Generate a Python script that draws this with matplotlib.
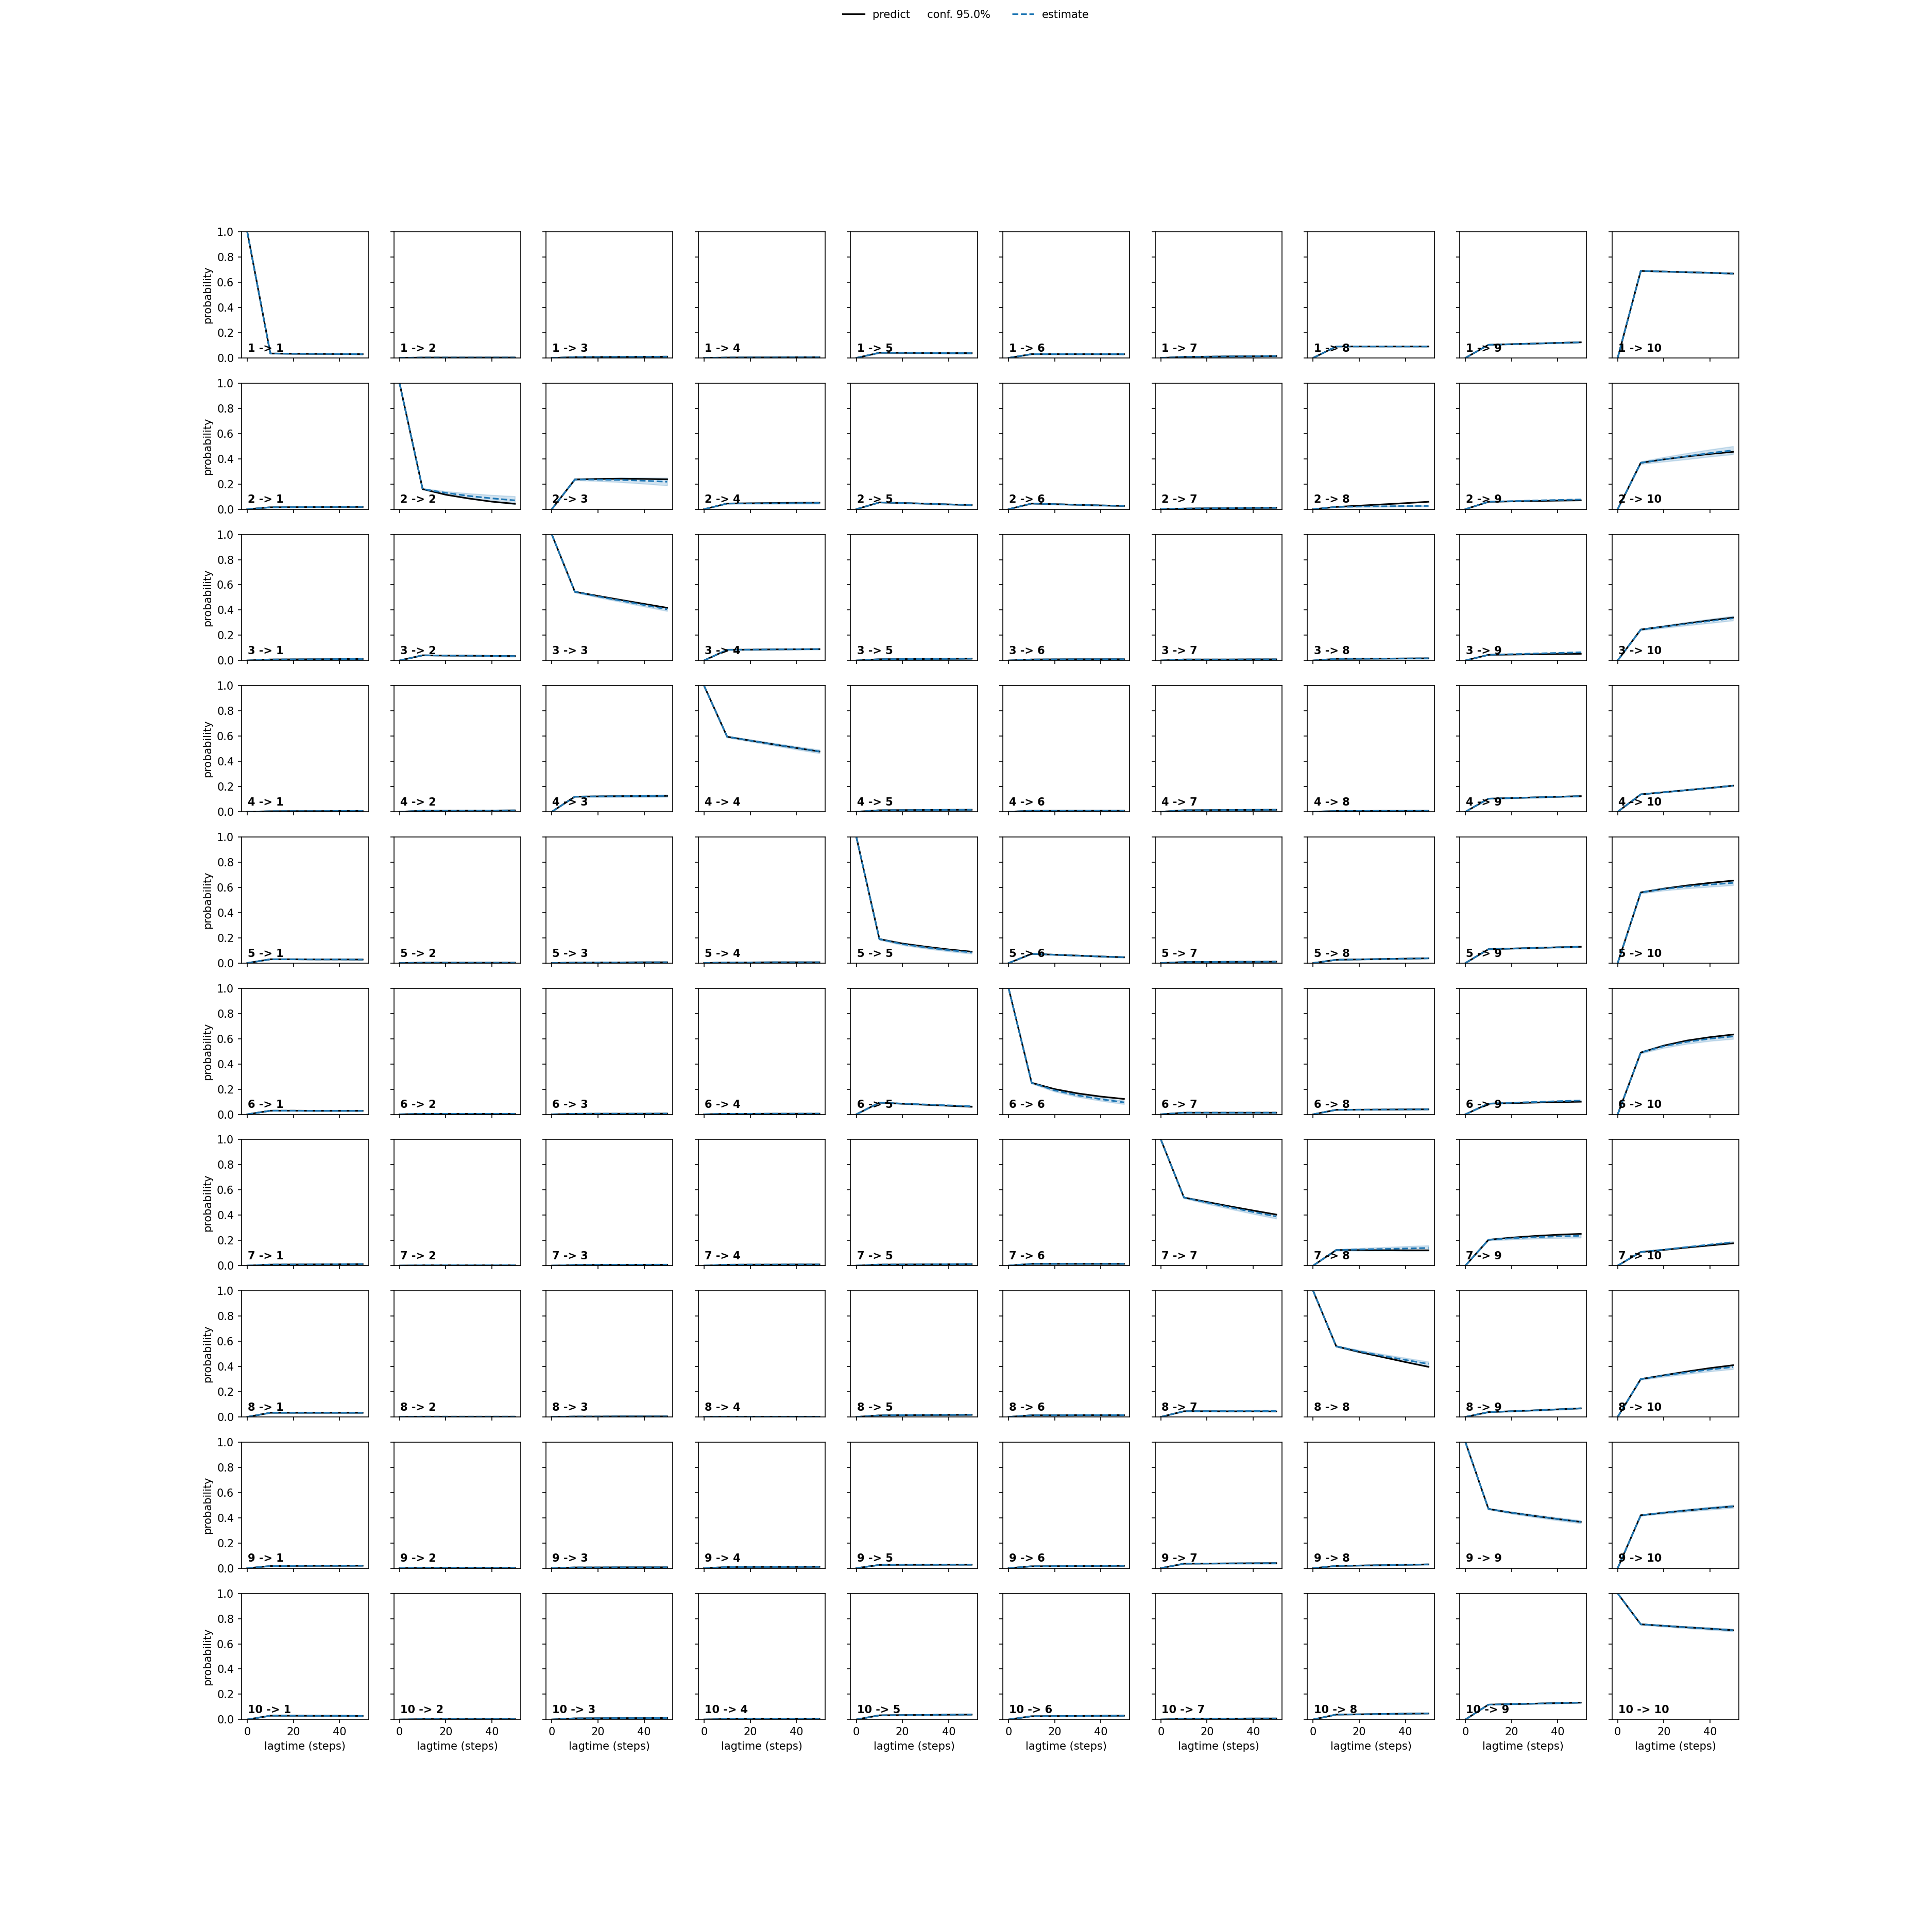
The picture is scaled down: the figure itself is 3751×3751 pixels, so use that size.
import numpy as np
import matplotlib
matplotlib.use('Agg')
import matplotlib.pyplot as plt

# lag times of the CK test (steps)
lagtimes = [0, 10, 20, 30, 40, 50]
nsets = 10

# estimates (black, solid) for each i -> j, rows i, columns j
estimates = [
    [[1, 0.035, 0.033, 0.032, 0.031, 0.030],
     [0, 0.003, 0.003, 0.003, 0.003, 0.003],
     [0, 0.006, 0.007, 0.008, 0.009, 0.010],
     [0, 0.003, 0.004, 0.004, 0.005, 0.005],
     [0, 0.041, 0.040, 0.039, 0.038, 0.038],
     [0, 0.030, 0.030, 0.030, 0.030, 0.030],
     [0, 0.008, 0.010, 0.012, 0.013, 0.015],
     [0, 0.091, 0.091, 0.091, 0.091, 0.091],
     [0, 0.104, 0.109, 0.114, 0.119, 0.124],
     [0, 0.690, 0.685, 0.680, 0.675, 0.669]],
    [[0, 0.015, 0.016, 0.017, 0.018, 0.018],
     [1, 0.160, 0.115, 0.085, 0.060, 0.043],
     [0, 0.236, 0.240, 0.242, 0.240, 0.237],
     [0, 0.045, 0.047, 0.049, 0.051, 0.052],
     [0, 0.054, 0.049, 0.044, 0.038, 0.033],
     [0, 0.045, 0.040, 0.035, 0.030, 0.026],
     [0, 0.005, 0.007, 0.008, 0.010, 0.011],
     [0, 0.018, 0.028, 0.038, 0.048, 0.059],
     [0, 0.059, 0.062, 0.065, 0.068, 0.070],
     [0, 0.368, 0.395, 0.418, 0.438, 0.455]],
    [[0, 0.008, 0.009, 0.010, 0.011, 0.012],
     [0, 0.041, 0.039, 0.038, 0.036, 0.035],
     [1, 0.545, 0.512, 0.480, 0.449, 0.418],
     [0, 0.085, 0.086, 0.088, 0.089, 0.090],
     [0, 0.010, 0.011, 0.012, 0.013, 0.015],
     [0, 0.008, 0.009, 0.010, 0.010, 0.010],
     [0, 0.008, 0.008, 0.008, 0.009, 0.009],
     [0, 0.013, 0.014, 0.015, 0.016, 0.017],
     [0, 0.045, 0.047, 0.049, 0.051, 0.053],
     [0, 0.245, 0.269, 0.294, 0.318, 0.340]],
    [[0, 0.004, 0.005, 0.005, 0.006, 0.006],
     [0, 0.008, 0.009, 0.010, 0.010, 0.011],
     [0, 0.120, 0.122, 0.124, 0.125, 0.126],
     [1, 0.595, 0.565, 0.535, 0.506, 0.478],
     [0, 0.012, 0.013, 0.014, 0.015, 0.016],
     [0, 0.008, 0.008, 0.009, 0.009, 0.009],
     [0, 0.012, 0.013, 0.014, 0.015, 0.016],
     [0, 0.006, 0.006, 0.007, 0.007, 0.008],
     [0, 0.104, 0.109, 0.114, 0.119, 0.124],
     [0, 0.138, 0.155, 0.172, 0.189, 0.207]],
    [[0, 0.030, 0.030, 0.029, 0.029, 0.028],
     [0, 0.003, 0.003, 0.003, 0.003, 0.003],
     [0, 0.004, 0.005, 0.005, 0.006, 0.006],
     [0, 0.005, 0.005, 0.006, 0.006, 0.006],
     [1, 0.190, 0.155, 0.130, 0.108, 0.090],
     [0, 0.073, 0.066, 0.059, 0.052, 0.046],
     [0, 0.008, 0.009, 0.010, 0.010, 0.011],
     [0, 0.026, 0.029, 0.032, 0.035, 0.038],
     [0, 0.110, 0.115, 0.120, 0.125, 0.129],
     [0, 0.560, 0.590, 0.615, 0.636, 0.654]],
    [[0, 0.029, 0.029, 0.028, 0.028, 0.028],
     [0, 0.004, 0.004, 0.004, 0.004, 0.004],
     [0, 0.004, 0.005, 0.005, 0.005, 0.006],
     [0, 0.004, 0.004, 0.005, 0.005, 0.005],
     [0, 0.093, 0.084, 0.076, 0.068, 0.060],
     [1, 0.250, 0.200, 0.166, 0.141, 0.122],
     [0, 0.013, 0.013, 0.013, 0.013, 0.013],
     [0, 0.036, 0.037, 0.038, 0.039, 0.040],
     [0, 0.085, 0.089, 0.093, 0.097, 0.100],
     [0, 0.490, 0.545, 0.585, 0.612, 0.633]],
    [[0, 0.008, 0.009, 0.010, 0.011, 0.012],
     [0, 0.003, 0.003, 0.003, 0.003, 0.003],
     [0, 0.005, 0.006, 0.006, 0.007, 0.007],
     [0, 0.007, 0.008, 0.008, 0.009, 0.009],
     [0, 0.008, 0.009, 0.010, 0.011, 0.012],
     [0, 0.014, 0.014, 0.014, 0.014, 0.014],
     [1, 0.540, 0.505, 0.470, 0.437, 0.405],
     [0, 0.124, 0.123, 0.122, 0.121, 0.121],
     [0, 0.205, 0.222, 0.235, 0.245, 0.252],
     [0, 0.108, 0.125, 0.143, 0.160, 0.177]],
    [[0, 0.033, 0.033, 0.033, 0.033, 0.033],
     [0, 0.002, 0.002, 0.002, 0.002, 0.002],
     [0, 0.003, 0.003, 0.004, 0.004, 0.004],
     [0, 0.001, 0.001, 0.001, 0.001, 0.001],
     [0, 0.012, 0.014, 0.015, 0.016, 0.017],
     [0, 0.013, 0.013, 0.014, 0.014, 0.014],
     [0, 0.045, 0.045, 0.044, 0.044, 0.043],
     [1, 0.560, 0.515, 0.475, 0.435, 0.397],
     [0, 0.038, 0.045, 0.052, 0.060, 0.068],
     [0, 0.300, 0.330, 0.360, 0.387, 0.410]],
    [[0, 0.017, 0.018, 0.019, 0.019, 0.020],
     [0, 0.003, 0.003, 0.003, 0.003, 0.003],
     [0, 0.006, 0.006, 0.007, 0.007, 0.007],
     [0, 0.009, 0.010, 0.010, 0.010, 0.011],
     [0, 0.026, 0.027, 0.027, 0.028, 0.028],
     [0, 0.015, 0.016, 0.017, 0.018, 0.019],
     [0, 0.036, 0.037, 0.038, 0.039, 0.040],
     [0, 0.018, 0.021, 0.024, 0.027, 0.030],
     [1, 0.470, 0.440, 0.414, 0.390, 0.367],
     [0, 0.420, 0.440, 0.458, 0.475, 0.490]],
    [[0, 0.030, 0.030, 0.029, 0.029, 0.028],
     [0, 0.003, 0.003, 0.003, 0.003, 0.003],
     [0, 0.009, 0.010, 0.011, 0.011, 0.012],
     [0, 0.004, 0.004, 0.004, 0.004, 0.004],
     [0, 0.033, 0.035, 0.036, 0.038, 0.039],
     [0, 0.026, 0.027, 0.028, 0.029, 0.030],
     [0, 0.006, 0.007, 0.007, 0.008, 0.008],
     [0, 0.039, 0.041, 0.044, 0.046, 0.048],
     [0, 0.118, 0.122, 0.126, 0.130, 0.134],
     [1, 0.755, 0.743, 0.731, 0.720, 0.708]],
]

# predictions (blue, dashed) where they differ from the estimates
pred_override = {
    (1, 1): [1, 0.160, 0.130, 0.105, 0.086, 0.070],
    (1, 2): [0, 0.236, 0.235, 0.232, 0.226, 0.218],
    (1, 3): [0, 0.045, 0.046, 0.047, 0.048, 0.049],
    (1, 7): [0, 0.018, 0.021, 0.023, 0.025, 0.026],
    (1, 8): [0, 0.059, 0.064, 0.069, 0.073, 0.077],
    (1, 9): [0, 0.368, 0.395, 0.420, 0.445, 0.467],
    (2, 2): [1, 0.545, 0.508, 0.474, 0.440, 0.406],
    (2, 8): [0, 0.045, 0.050, 0.055, 0.060, 0.065],
    (2, 9): [0, 0.245, 0.268, 0.291, 0.313, 0.335],
    (4, 4): [1, 0.190, 0.150, 0.124, 0.102, 0.084],
    (4, 9): [0, 0.560, 0.587, 0.607, 0.622, 0.636],
    (5, 4): [0, 0.093, 0.085, 0.078, 0.071, 0.064],
    (5, 5): [1, 0.250, 0.190, 0.150, 0.120, 0.095],
    (5, 8): [0, 0.085, 0.092, 0.098, 0.104, 0.110],
    (5, 9): [0, 0.490, 0.540, 0.575, 0.600, 0.618],
    (6, 6): [1, 0.540, 0.500, 0.462, 0.425, 0.390],
    (6, 7): [0, 0.124, 0.128, 0.132, 0.136, 0.140],
    (6, 8): [0, 0.205, 0.217, 0.226, 0.232, 0.237],
    (6, 9): [0, 0.108, 0.127, 0.147, 0.167, 0.186],
    (7, 6): [0, 0.045, 0.046, 0.046, 0.047, 0.047],
    (7, 7): [1, 0.560, 0.520, 0.485, 0.452, 0.420],
    (7, 9): [0, 0.300, 0.328, 0.353, 0.376, 0.396],
}

# half width of the 95% confidence band of the predictions
conf_default = [0, 0.002, 0.003, 0.004, 0.004, 0.005]
conf_override = {
    (1, 1): [0, 0.005, 0.012, 0.020, 0.026, 0.032],
    (1, 2): [0, 0.006, 0.012, 0.018, 0.024, 0.030],
    (1, 9): [0, 0.010, 0.018, 0.024, 0.028, 0.032],
    (2, 2): [0, 0.006, 0.008, 0.010, 0.012, 0.014],
    (2, 9): [0, 0.006, 0.010, 0.013, 0.016, 0.018],
    (3, 3): [0, 0.006, 0.008, 0.010, 0.012, 0.014],
    (3, 2): [0, 0.004, 0.006, 0.007, 0.008, 0.008],
    (4, 4): [0, 0.006, 0.008, 0.009, 0.010, 0.010],
    (4, 9): [0, 0.008, 0.012, 0.015, 0.017, 0.019],
    (5, 5): [0, 0.006, 0.010, 0.012, 0.013, 0.014],
    (5, 9): [0, 0.008, 0.013, 0.016, 0.018, 0.020],
    (6, 6): [0, 0.006, 0.010, 0.013, 0.015, 0.017],
    (6, 7): [0, 0.006, 0.010, 0.014, 0.017, 0.020],
    (6, 8): [0, 0.006, 0.010, 0.012, 0.014, 0.015],
    (7, 7): [0, 0.006, 0.010, 0.013, 0.016, 0.018],
    (7, 9): [0, 0.006, 0.010, 0.013, 0.015, 0.017],
    (8, 8): [0, 0.005, 0.008, 0.010, 0.011, 0.012],
    (8, 9): [0, 0.005, 0.008, 0.010, 0.011, 0.012],
    (9, 9): [0, 0.005, 0.007, 0.008, 0.009, 0.010],
}

conf = 0.95


def main():
    fig, axes = plt.subplots(nsets, nsets, sharex=True, sharey=True, figsize=(3751 / 150, 3751 / 150))
    lags = np.array(lagtimes)
    for i in range(nsets):
        for j in range(nsets):
            ax = axes[i, j]
            est = np.array(estimates[i][j])
            pred = np.array(pred_override.get((i, j), estimates[i][j]))
            err = np.array(conf_override.get((i, j), conf_default))
            lest = ax.plot(lags, est, color='black')
            lpred = ax.plot(lags, pred, color='C0', linestyle='dashed')
            ax.fill_between(lags, pred - err, pred + err, color='C0', alpha=0.2)
            ax.text(0.05, 0.05, str(i + 1) + ' -> ' + str(j + 1), transform=ax.transAxes, weight='bold')
            ax.set_ylim(0, 1)
            if j == 0:
                ax.set_ylabel('probability')
            if i == nsets - 1:
                ax.set_xlabel('lagtime (steps)')
    predlabel = 'predict     conf. {:3.1f}%'.format(100.0 * conf)
    fig.legend((lest[0], lpred[0]), (predlabel, 'estimate'), loc='upper center', ncol=2, frameon=False)
    fig.savefig('out.png', dpi=150)


if __name__ == '__main__':
    main()
